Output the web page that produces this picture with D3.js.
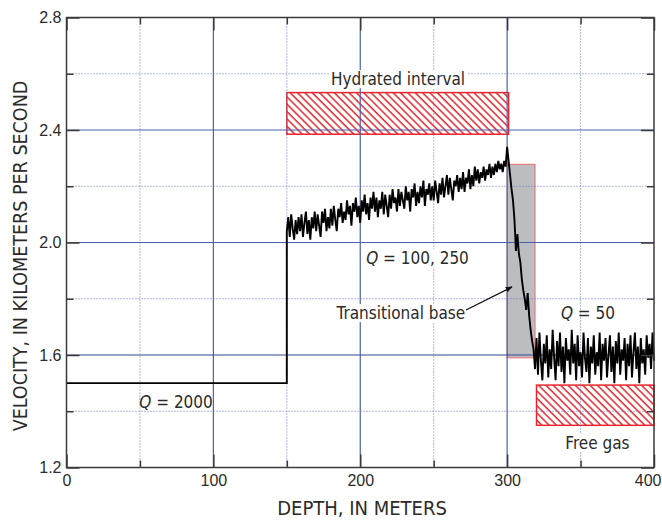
<!DOCTYPE html>
<html>
<head>
<meta charset="utf-8">
<script src="https://cdn.jsdelivr.net/npm/d3@7"></script>
<style>
  html, body { margin: 0; padding: 0; background: #fff; }
  svg { display: block; font-family: "Liberation Sans Narrow", "DejaVu Sans Condensed", "Roboto Condensed", sans-serif; }
  .tick-label text { font-size: 16px; fill: #2b2b2b; }
  .axis-title { font-size: 20px; fill: #2b2b2b; }
  .note { font-size: 17px; fill: #2b2b2b; }
</style>
</head>
<body>
<div id="chart"></div>
<script>
// ---- data ----
const xMajorTicks = [0, 100, 200, 300, 400];
const xMinorTicks = [50, 150, 250, 350];
const yMajorTicks = [1.2, 1.6, 2.0, 2.4, 2.8];
const yMinorTicks = [1.4, 1.8, 2.2, 2.6];

// Q = 2000 layer (constant velocity)
const shallowDepth = [0, 150];
const shallowVel = [1.5, 1.5];

// hydrated interval, one sample per metre from 150 m
const hydrateStart = 150;
const hydrateVel = [
  2.04, 2.09, 2.02, 2.10, 2.05, 2.01, 2.08, 2.03, 2.09, 2.04,
  2.10, 2.02, 2.07, 2.11, 2.03, 2.08, 2.01, 2.09, 2.05, 2.11,
  2.04, 2.10, 2.06, 2.02, 2.11, 2.07, 2.12, 2.04, 2.09, 2.05,
  2.12, 2.06, 2.13, 2.08, 2.04, 2.12, 2.09, 2.14, 2.07, 2.11,
  2.08, 2.15, 2.10, 2.13, 2.06, 2.14, 2.11, 2.16, 2.09, 2.13,
  2.07, 2.15, 2.11, 2.17, 2.10, 2.14, 2.08, 2.16, 2.12, 2.18,
  2.11, 2.16, 2.09, 2.15, 2.12, 2.18, 2.10, 2.17, 2.13, 2.09,
  2.17, 2.12, 2.19, 2.14, 2.16, 2.11, 2.19, 2.13, 2.18, 2.15,
  2.12, 2.20, 2.15, 2.18, 2.11, 2.19, 2.16, 2.21, 2.13, 2.18,
  2.14, 2.20, 2.16, 2.22, 2.13, 2.19, 2.17, 2.21, 2.15, 2.20,
  2.15, 2.22, 2.18, 2.14, 2.21, 2.17, 2.23, 2.16, 2.20, 2.24,
  2.17, 2.23, 2.19, 2.15, 2.22, 2.20, 2.24, 2.18, 2.23, 2.19,
  2.25, 2.18, 2.23, 2.21, 2.26, 2.19, 2.24, 2.20, 2.27, 2.22,
  2.26, 2.21, 2.25, 2.23, 2.27, 2.22, 2.26, 2.24, 2.28, 2.23,
  2.27, 2.24, 2.28, 2.25, 2.29, 2.26, 2.28, 2.25, 2.29, 2.27,
  2.34
];

// transitional base, from 301 m
const baseStart = 301;
const baseVel = [
  2.29, 2.24, 2.19, 2.15, 2.08, 1.97, 2.03, 1.96, 1.93,
  1.87, 1.83, 1.80, 1.76, 1.82, 1.74, 1.69, 1.65, 1.62
];

// free gas (Q = 50), from 319 m
const gasStart = 319;
const gasVel = [
  1.55, 1.66, 1.53, 1.68, 1.58, 1.51, 1.64, 1.57, 1.67, 1.52,
  1.62, 1.55, 1.69, 1.59, 1.51, 1.65, 1.56, 1.68, 1.54, 1.63,
  1.50, 1.66, 1.58, 1.62, 1.53, 1.69, 1.57, 1.64, 1.51, 1.67,
  1.56, 1.61, 1.52, 1.68, 1.59, 1.54, 1.66, 1.50, 1.63, 1.57,
  1.67, 1.53, 1.61, 1.56, 1.68, 1.51, 1.64, 1.58, 1.66, 1.52,
  1.60, 1.67, 1.54, 1.63, 1.50, 1.65, 1.57, 1.68, 1.53, 1.62,
  1.58, 1.66, 1.51, 1.64, 1.56, 1.67, 1.52, 1.61, 1.68, 1.55,
  1.63, 1.50, 1.66, 1.57, 1.62, 1.53, 1.67, 1.59, 1.64, 1.55,
  1.68, 1.58
];

// shaded intervals: [depth from, depth to, velocity low, velocity high]
const hydrateBox = [150, 301, 2.385, 2.533];
const gasBox = [320, 400, 1.35, 1.493];
const transitionBox = [300, 319, 1.59, 2.278];

// ---- layout ----
const W = 662, H = 521;
const margin = { top: 17.5, right: 8, bottom: 53.5, left: 66.5 };
const width = W - margin.left - margin.right;
const height = H - margin.top - margin.bottom;

const gridBlue = '#4a62ae';
const hatchRed = '#e8262d';
const ink = '#2b2b2b';

const svg = d3.select('#chart').append('svg')
  .attr('width', W)
  .attr('height', H);

const g = svg.append('g').attr('transform', `translate(${margin.left},${margin.top})`);

const x = d3.scaleLinear().domain([0, 400]).range([0, width]);
const y = d3.scaleLinear().domain([1.2, 2.8]).range([height, 0]);

// hatch pattern for the hydrate / gas boxes
const defs = svg.append('defs');
const pat = defs.append('pattern')
  .attr('id', 'hatch')
  .attr('patternUnits', 'userSpaceOnUse')
  .attr('width', 5.2).attr('height', 5.2)
  .attr('patternTransform', 'rotate(-45)');
pat.append('line')
  .attr('x1', 1).attr('y1', 0).attr('x2', 1).attr('y2', 5.2)
  .attr('stroke', hatchRed).attr('stroke-width', 1.5);

// boxes first, grid goes on top of them
const boxRect = (b) => ({ x: x(b[0]), y: y(b[3]), w: x(b[1]) - x(b[0]), h: y(b[2]) - y(b[3]) });

const tb = boxRect(transitionBox);
g.append('rect')
  .attr('x', tb.x).attr('y', tb.y).attr('width', tb.w).attr('height', tb.h)
  .attr('fill', '#bcbdc0').attr('stroke', '#ef6b6e').attr('stroke-width', 1);

[hydrateBox, gasBox].forEach(b => {
  const r = boxRect(b);
  g.append('rect')
    .attr('x', r.x).attr('y', r.y).attr('width', r.w).attr('height', r.h)
    .attr('fill', '#fff');
  g.append('rect')
    .attr('x', r.x).attr('y', r.y).attr('width', r.w).attr('height', r.h)
    .attr('fill', 'url(#hatch)').attr('stroke', hatchRed).attr('stroke-width', 1.5);
});

// grid: solid at the labelled values, dotted in between
const grid = g.append('g');
xMajorTicks.filter(d => d > 0 && d < 400).forEach(d => {
  grid.append('line').attr('x1', x(d)).attr('x2', x(d)).attr('y1', 0).attr('y2', height)
    .attr('stroke', gridBlue).attr('stroke-width', 1.2);
});
xMinorTicks.forEach(d => {
  grid.append('line').attr('x1', x(d)).attr('x2', x(d)).attr('y1', 0).attr('y2', height)
    .attr('stroke', '#5d72c2').attr('stroke-width', 1).attr('stroke-dasharray', '1,2');
});
yMajorTicks.filter(d => d > 1.2 && d < 2.8).forEach(d => {
  grid.append('line').attr('x1', 0).attr('x2', width).attr('y1', y(d)).attr('y2', y(d))
    .attr('stroke', d === 1.6 ? '#34478f' : gridBlue).attr('stroke-width', 1.2);
});
yMinorTicks.forEach(d => {
  grid.append('line').attr('x1', 0).attr('x2', width).attr('y1', y(d)).attr('y2', y(d))
    .attr('stroke', '#5d72c2').attr('stroke-width', 1).attr('stroke-dasharray', '1,2');
});

// velocity profile
const profile = [];
shallowDepth.forEach((d, i) => profile.push([d, shallowVel[i]]));
hydrateVel.forEach((v, i) => profile.push([hydrateStart + i, v]));
baseVel.forEach((v, i) => profile.push([baseStart + i, v]));
gasVel.forEach((v, i) => profile.push([gasStart + i, v]));

const line = d3.line().x(d => x(d[0])).y(d => y(d[1]));
g.append('path')
  .datum(profile)
  .attr('d', line)
  .attr('fill', 'none')
  .attr('stroke', '#000')
  .attr('stroke-width', 1.9)
  .attr('stroke-linejoin', 'miter');

// axes: inward ticks on all four sides, labels only left and bottom
function styleAxis(sel) {
  sel.select('.domain').remove();
  sel.selectAll('line').attr('stroke', '#3a3a3a').attr('stroke-width', 1.5);
  sel.attr('class', 'tick-label');
  sel.selectAll('text').attr('fill', ink);
}

const xAxisG = g.append('g').attr('transform', `translate(0,${height})`)
  .call(d3.axisBottom(x).tickValues(xMajorTicks).tickSizeInner(-13).tickSizeOuter(0).tickPadding(7).tickFormat(d3.format('d')))
  .call(styleAxis);
// last label sits at the window edge; keep it inside
xAxisG.selectAll('.tick text').filter(d => d === 400).attr('text-anchor', 'end').attr('x', 7);

g.append('g').attr('transform', `translate(0,${height})`)
  .call(d3.axisBottom(x).tickValues(xMinorTicks).tickSizeInner(-7).tickSizeOuter(0).tickFormat(''))
  .call(styleAxis);
g.append('g')
  .call(d3.axisLeft(y).tickValues(yMajorTicks).tickSizeInner(-13).tickSizeOuter(0).tickPadding(5).tickFormat(d3.format('.1f')))
  .call(styleAxis);
g.append('g')
  .call(d3.axisLeft(y).tickValues(yMinorTicks).tickSizeInner(-7).tickSizeOuter(0).tickFormat(''))
  .call(styleAxis);
g.append('g')
  .call(d3.axisTop(x).tickValues(xMajorTicks).tickSizeInner(-13).tickSizeOuter(0).tickFormat(''))
  .call(styleAxis);
g.append('g')
  .call(d3.axisTop(x).tickValues(xMinorTicks).tickSizeInner(-7).tickSizeOuter(0).tickFormat(''))
  .call(styleAxis);
g.append('g').attr('transform', `translate(${width},0)`)
  .call(d3.axisRight(y).tickValues(yMajorTicks).tickSizeInner(-13).tickSizeOuter(0).tickFormat(''))
  .call(styleAxis);
g.append('g').attr('transform', `translate(${width},0)`)
  .call(d3.axisRight(y).tickValues(yMinorTicks).tickSizeInner(-7).tickSizeOuter(0).tickFormat(''))
  .call(styleAxis);

// frame
g.append('rect')
  .attr('x', 0).attr('y', 0).attr('width', width).attr('height', height)
  .attr('fill', 'none').attr('stroke', '#3a3a3a').attr('stroke-width', 1.5);

// annotations (depth, velocity of the text centre)
function note(depth, vel, parts, withBg) {
  const t = g.append('text')
    .attr('class', 'note')
    .attr('x', x(depth)).attr('y', y(vel))
    .attr('text-anchor', 'middle')
    .attr('dominant-baseline', 'central');
  parts.forEach(p => {
    t.append('tspan').text(p.t).attr('font-style', p.i ? 'italic' : null);
  });
  if (withBg) {
    const bb = t.node().getBBox();
    g.insert('rect', () => t.node())
      .attr('x', bb.x - 2).attr('y', bb.y + 1)
      .attr('width', bb.width + 4).attr('height', bb.height - 2)
      .attr('fill', '#fff');
  }
}

note(225.7, 2.581, [{ t: 'Hydrated interval' }], true);
note(239, 1.945, [{ t: 'Q', i: true }, { t: ' = 100, 250' }], true);
note(227.7, 1.749, [{ t: 'Transitional base' }], true);
note(355, 1.749, [{ t: 'Q', i: true }, { t: ' = 50' }], false);
note(361.5, 1.287, [{ t: 'Free gas' }], true);
note(74.6, 1.434, [{ t: 'Q', i: true }, { t: ' = 2000' }], false);

// arrow to the transitional zone
defs.append('marker')
  .attr('id', 'arrowhead')
  .attr('viewBox', '0 0 10 10')
  .attr('refX', 9).attr('refY', 5)
  .attr('markerWidth', 7).attr('markerHeight', 7)
  .attr('markerUnits', 'userSpaceOnUse')
  .attr('orient', 'auto')
  .append('path').attr('d', 'M0,1 L10,5 L0,9 Z').attr('fill', '#111');
g.append('line')
  .attr('x1', x(272)).attr('y1', y(1.76))
  .attr('x2', x(303.3)).attr('y2', y(1.842))
  .attr('stroke', '#111').attr('stroke-width', 1.3)
  .attr('marker-end', 'url(#arrowhead)');

// axis titles
svg.append('text')
  .attr('class', 'axis-title')
  .attr('x', 362).attr('y', 508)
  .attr('text-anchor', 'middle').attr('dominant-baseline', 'central')
  .text('DEPTH, IN METERS');
svg.append('text')
  .attr('class', 'axis-title')
  .attr('font-size', 19.5)
  .attr('transform', 'translate(20.5,256) rotate(-90)')
  .attr('text-anchor', 'middle').attr('dominant-baseline', 'central')
  .style('font-size', '19.5px')
  .text('VELOCITY, IN KILOMETERS PER SECOND');
</script>
</body>
</html>
